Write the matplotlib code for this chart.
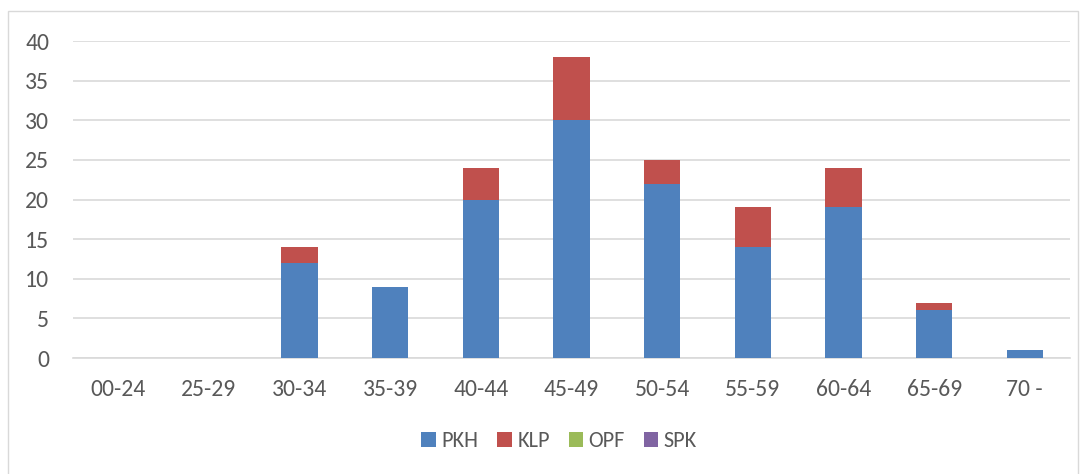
import matplotlib.pyplot as plt
import numpy as np

categories = ["00-24", "25-29", "30-34", "35-39", "40-44", "45-49",
              "50-54", "55-59", "60-64", "65-69", "70 -"]
pkh = [0, 0, 12, 9, 20, 30, 22, 14, 19, 6, 1]
klp = [0, 0, 2, 0, 4, 8, 3, 5, 5, 1, 0]
opf = [0, 0, 0, 0, 0, 0, 0, 0, 0, 0, 0]
spk = [0, 0, 0, 0, 0, 0, 0, 0, 0, 0, 0]

series = [("PKH", pkh, "#4F81BD"), ("KLP", klp, "#C0504D"),
          ("OPF", opf, "#9BBB59"), ("SPK", spk, "#8064A2")]

plt.rcParams['font.family'] = ['Carlito', 'Liberation Sans', 'DejaVu Sans']

fig = plt.figure(figsize=(10.86, 4.74), dpi=100)
ax = fig.add_axes([0.0672, 0.2447, 0.9181, 0.6688])

# border around the chart (bottom edge falls outside the picture)
fig.patches.append(plt.Rectangle((8 / 1086, -0.05), 1 - 16 / 1086, 1.05 - 11 / 474,
                                 transform=fig.transFigure, fill=False,
                                 edgecolor="#D9D9D9", linewidth=1))

x = np.arange(len(categories))
bottom = np.zeros(len(categories))
for name, vals, color in series:
    ax.bar(x, vals, width=0.4, bottom=bottom, color=color, label=name, zorder=3)
    bottom += np.array(vals)

ax.set_xlim(-0.5, len(categories) - 0.5)
ax.set_ylim(0, 40)
ax.set_yticks(range(0, 41, 5))
ax.set_xticks(x)
ax.set_xticklabels(categories)
ax.yaxis.grid(True, color="#D9D9D9", linewidth=1.2, zorder=0)
for s in ["top", "right", "left"]:
    ax.spines[s].set_visible(False)
ax.spines["bottom"].set_color("#D9D9D9")
ax.spines["bottom"].set_linewidth(1.2)
ax.tick_params(axis="both", length=0, labelsize=17, colors="#595959", pad=15)
ax.tick_params(axis="y", pad=17)

leg = fig.legend(loc="center", bbox_to_anchor=(0.515, 0.0696), ncol=4,
                 frameon=False, fontsize=16, handlelength=0.65, handleheight=0.65,
                 columnspacing=0.85, handletextpad=0.25)
for t in leg.get_texts():
    t.set_color("#595959")

fig.savefig("out.png", dpi=100)
